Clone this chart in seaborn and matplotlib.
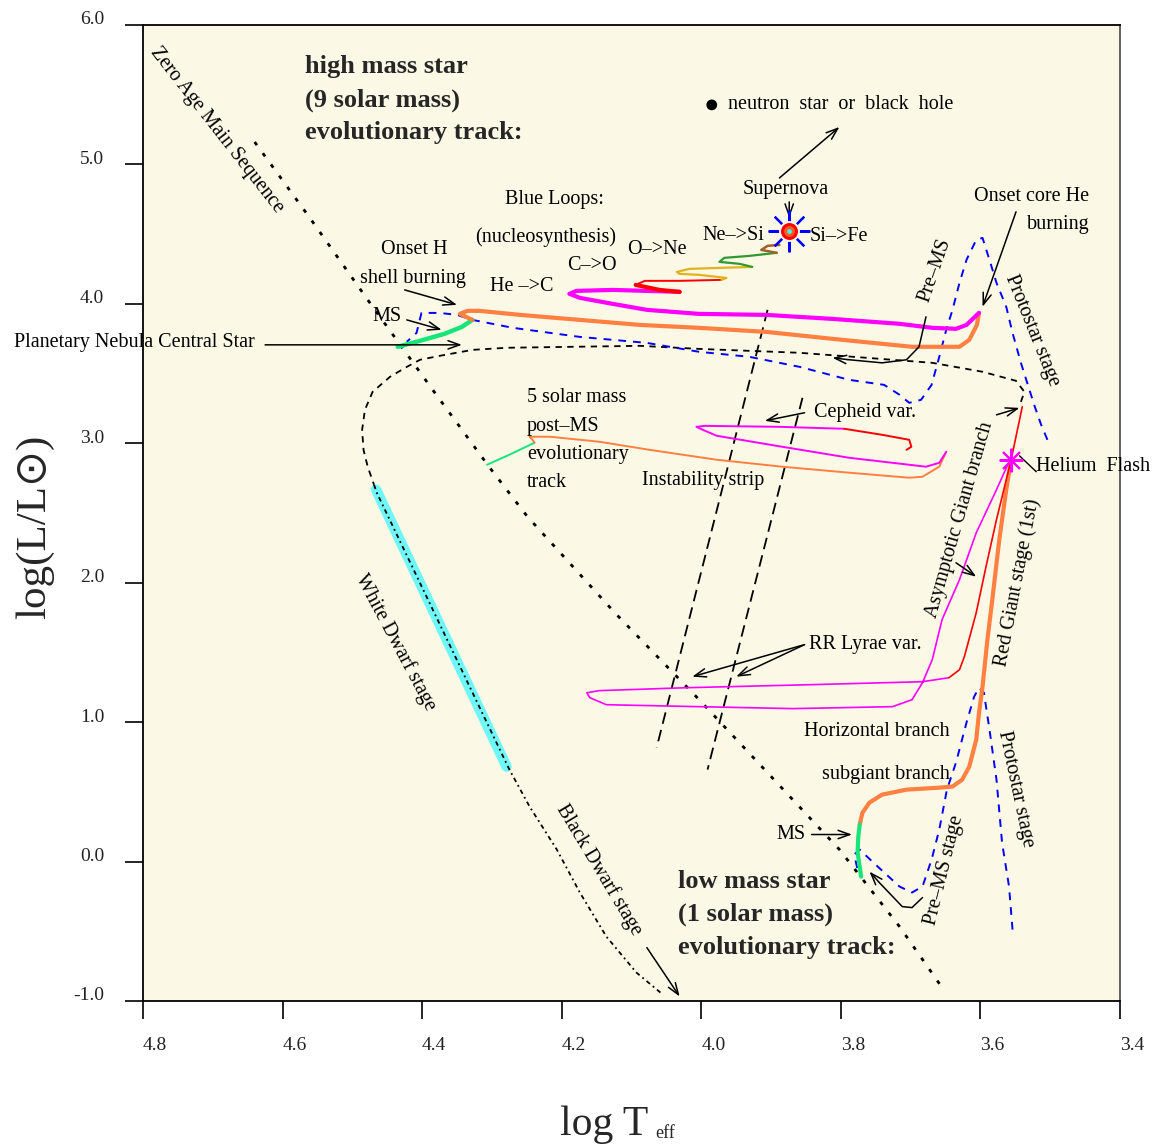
import matplotlib
matplotlib.use("Agg")
import matplotlib.pyplot as plt
import matplotlib.transforms as mtransforms
import seaborn as sns

# ---------------- data (log Teff, log L/Lsun) ----------------
# zero-age main sequence
zams_logt = [4.640, 4.561, 4.478, 4.385, 4.303, 4.249, 4.124, 4.003, 3.885, 3.802, 3.716, 3.655]
zams_logl = [5.161, 4.617, 4.029, 3.384, 2.824, 2.473, 1.785, 1.161, 0.530, 0.086, -0.466, -0.903]

# 9 solar mass star
hm_ms_logt = [4.435, 4.403, 4.368, 4.343, 4.328]
hm_ms_logl = [3.692, 3.735, 3.785, 3.835, 3.885]
hm_post_logt = [4.328, 4.346, 4.335, 4.318, 4.260, 4.174, 4.088, 4.003, 3.907, 3.812, 3.698, 3.630, 3.616, 3.605, 3.602]
hm_post_logl = [3.885, 3.928, 3.950, 3.950, 3.921, 3.885, 3.849, 3.828, 3.799, 3.749, 3.692, 3.692, 3.742, 3.849, 3.935]
hm_he_logt = [3.602, 3.620, 3.635, 3.669, 3.716, 3.812, 3.907, 4.003, 4.078, 4.127, 4.174, 4.189, 4.179, 4.127, 4.031]
hm_he_logl = [3.935, 3.849, 3.821, 3.828, 3.857, 3.892, 3.921, 3.928, 3.957, 4.000, 4.043, 4.072, 4.093, 4.100, 4.086]
hm_c_logt = [4.031, 4.060, 4.094, 4.081, 4.031, 3.971]
hm_c_logl = [4.086, 4.100, 4.136, 4.165, 4.165, 4.172]
hm_o_logt = [3.971, 3.964, 4.003, 4.031, 4.035, 4.017, 3.974, 3.927]
hm_o_logl = [4.172, 4.186, 4.208, 4.215, 4.229, 4.251, 4.258, 4.265]
hm_ne_logt = [3.927, 3.945, 3.974, 3.967, 3.931, 3.892]
hm_ne_logl = [4.265, 4.287, 4.301, 4.330, 4.344, 4.366]
hm_si_logt = [3.892, 3.914, 3.905, 3.888]
hm_si_logl = [4.366, 4.387, 4.416, 4.423]
supernova_logt, supernova_logl = 3.874, 4.523
remnant_logt, remnant_logl = 3.985, 5.427
hm_pre_logt = [3.504, 3.513, 3.523, 3.533, 3.542, 3.554, 3.563, 3.577, 3.587, 3.597, 3.606, 3.620,
               3.630, 3.640, 3.649, 3.659, 3.670, 3.685, 3.702, 3.716, 3.738, 3.788, 3.859, 3.931,
               4.003, 4.078, 4.174, 4.270, 4.328, 4.350, 4.375, 4.401, 4.408, 4.422]
hm_pre_logl = [3.025, 3.133, 3.276, 3.434, 3.577, 3.792, 3.979, 4.151, 4.315, 4.473, 4.459, 4.315,
               4.151, 3.957, 3.814, 3.620, 3.419, 3.312, 3.290, 3.348, 3.419, 3.455, 3.548, 3.620,
               3.656, 3.720, 3.763, 3.828, 3.885, 3.921, 3.935, 3.935, 3.792, 3.728]

# 5 solar mass star
im_ms_logt = [4.307, 4.275, 4.239]
im_ms_logl = [2.846, 2.918, 3.004]
im_post_logt = [4.239, 4.242, 4.246, 4.217, 4.146, 4.074, 3.978, 3.884, 3.788, 3.702, 3.683, 3.659, 3.649]
im_post_logl = [3.004, 3.025, 3.047, 3.047, 3.011, 2.953, 2.882, 2.832, 2.789, 2.753, 2.760, 2.832, 2.939]
im_loop_logt = [3.649, 3.659, 3.678, 3.788, 3.884, 3.978, 3.998, 4.007, 3.995, 3.888, 3.795]
im_loop_logl = [2.939, 2.860, 2.832, 2.896, 2.975, 3.054, 3.097, 3.118, 3.125, 3.118, 3.104]
im_end_logt = [3.795, 3.741, 3.702, 3.699, 3.706]
im_end_logl = [3.104, 3.061, 3.025, 2.975, 2.953]

# 1 solar mass star
lm_ms_logt = [3.773, 3.775, 3.776, 3.773, 3.771]
lm_ms_logl = [0.265, 0.179, 0.065, -0.036, -0.108]
lm_rgb_logt = [3.773, 3.769, 3.759, 3.741, 3.706, 3.659, 3.640, 3.626, 3.616, 3.606, 3.602, 3.597,
               3.590, 3.583, 3.573, 3.563, 3.556]
lm_rgb_logl = [0.265, 0.351, 0.423, 0.480, 0.516, 0.530, 0.538, 0.588, 0.681, 0.875, 1.068, 1.254,
               1.591, 1.878, 2.308, 2.667, 2.882]
lm_hb_logt = [3.559, 3.577, 3.606, 3.630, 3.655, 3.669, 3.683, 3.698, 3.726, 3.869, 4.003, 4.136,
              4.160, 4.164, 4.146, 4.021, 3.841, 3.683, 3.645]
lm_hb_logl = [2.867, 2.667, 2.358, 2.022, 1.735, 1.448, 1.283, 1.161, 1.111, 1.097, 1.111, 1.125,
              1.176, 1.211, 1.226, 1.247, 1.269, 1.290, 1.319]
lm_agb_logt = [3.645, 3.630, 3.623, 3.606, 3.592, 3.577, 3.556, 3.540]
lm_agb_logl = [1.319, 1.376, 1.470, 1.785, 2.115, 2.452, 2.882, 3.262]
lm_pre_logt = [3.554, 3.559, 3.569, 3.577, 3.587, 3.595, 3.602, 3.609, 3.620, 3.635, 3.648, 3.659,
               3.670, 3.683, 3.698, 3.716, 3.755, 3.773, 3.781, 3.776]
lm_pre_logl = [-0.488, -0.179, 0.136, 0.588, 0.946, 1.211, 1.247, 1.183, 0.996, 0.710, 0.516, 0.229,
               0.014, -0.179, -0.222, -0.179, 0.000, 0.086, 0.050, -0.057]
he_flash_logt, he_flash_logl = 3.556, 2.882

# planetary nebula nucleus -> white dwarf -> black dwarf
pn_logt = [3.542, 3.537, 3.549, 3.597, 3.669, 3.763, 3.859, 4.003, 4.088, 4.184, 4.279, 4.328,
           4.375, 4.403, 4.422, 4.446, 4.471, 4.482, 4.486, 4.484, 4.478, 4.469]
pn_logl = [3.297, 3.369, 3.448, 3.513, 3.577, 3.613, 3.649, 3.677, 3.699, 3.692, 3.685, 3.670,
           3.627, 3.599, 3.548, 3.477, 3.369, 3.240, 3.097, 2.953, 2.832, 2.703]
cool_logt = [4.469, 4.465, 4.275, 4.246, 4.207, 4.174, 4.136, 4.093, 4.055]
cool_logl = [2.703, 2.645, 0.660, 0.394, 0.086, -0.222, -0.538, -0.796, -0.954]
wd_logt = [4.466, 4.279]
wd_logl = [2.667, 0.681]

# instability strip edges
strip_blue_logt = [3.905, 4.064]
strip_blue_logl = [3.957, 0.817]
strip_red_logt = [3.855, 3.991]
strip_red_logl = [3.326, 0.660]

# axis ticks
xticks = [4.8, 4.6, 4.4, 4.2, 4.0, 3.8, 3.6, 3.4]
yticks = [6.0, 5.0, 4.0, 3.0, 2.0, 1.0, 0.0, -1.0]

# ---------------- styling ----------------
sns.set_theme(style="white")
plt.rcParams["font.family"] = ["Liberation Serif", "DejaVu Serif"]
plt.rcParams["axes.unicode_minus"] = False

CREAM = "#fcf8e6"
GREEN = "#16e67a"
ORANGE = "#ff8040"
MAGENTA = "#ff00ff"
RED = "#ff0000"
GOLD = "#e2b21c"
DKGREEN = "#2f9a2f"
BROWN = "#a0622c"
BLUE = "#0000ff"
CYAN = "#6ff7f7"

fig = plt.figure(figsize=(11.53, 11.47), dpi=100)
fig.patch.set_facecolor("white")
ax = fig.add_axes([143 / 1153, 1 - 1001 / 1147, 977 / 1153, 976 / 1147])
ax.set_facecolor(CREAM)


def track(xs, ys, color, lw, ls="-", z=2):
    sns.lineplot(x=xs, y=ys, sort=False, estimator=None, color=color,
                 linewidth=lw, linestyle=ls, ax=ax, legend=False, zorder=z)


def arrow(tail, head, lw=1.1):
    ax.annotate("", xy=head, xytext=tail,
                arrowprops=dict(arrowstyle="->,head_length=0.7,head_width=0.25",
                                color="black", lw=lw, shrinkA=0, shrinkB=0))


# reference lines
track(zams_logt, zams_logl, "black", 2.0, (0, (1.4, 3.6)), z=1)
track(strip_blue_logt, strip_blue_logl, "black", 1.3, (0, (6.5, 3.5)), z=1)
track(strip_red_logt, strip_red_logl, "black", 1.3, (0, (6.5, 3.5)), z=1)

# white dwarf cooling
track(wd_logt, wd_logl, CYAN, 7.5, z=1)
track(pn_logt, pn_logl, "black", 1.3, (0, (3.5, 3.0)), z=2)
track(cool_logt, cool_logl, "black", 1.3, (0, (2.5, 2.0, 1.0, 2.0)), z=2)

# pre-main-sequence contractions
track(hm_pre_logt, hm_pre_logl, BLUE, 1.4, (0, (4.0, 3.6)))
track(lm_pre_logt, lm_pre_logl, BLUE, 1.4, (0, (4.0, 3.6)))

# 9 solar mass
track(hm_ms_logt, hm_ms_logl, GREEN, 3.2, z=3)
track(hm_post_logt, hm_post_logl, ORANGE, 3.0, z=3)
track(hm_he_logt, hm_he_logl, MAGENTA, 3.0, z=3)
track(hm_c_logt[:3], hm_c_logl[:3], RED, 3.0, z=3)
track(hm_c_logt, hm_c_logl, RED, 1.4, z=3)
track(hm_o_logt, hm_o_logl, GOLD, 1.6, z=3)
track(hm_ne_logt, hm_ne_logl, DKGREEN, 1.6, z=3)
track(hm_si_logt, hm_si_logl, BROWN, 1.8, z=3)

# 5 solar mass
track(im_ms_logt, im_ms_logl, GREEN, 1.4, z=3)
track(im_post_logt, im_post_logl, ORANGE, 1.4, z=3)
track(im_loop_logt, im_loop_logl, MAGENTA, 1.4, z=3)
track(im_end_logt, im_end_logl, RED, 1.4, z=3)

# 1 solar mass
track(lm_ms_logt, lm_ms_logl, GREEN, 3.0, z=4)
track(lm_rgb_logt, lm_rgb_logl, ORANGE, 3.0, z=3)
track(lm_hb_logt, lm_hb_logl, MAGENTA, 1.2, z=3)
track(lm_agb_logt, lm_agb_logl, RED, 1.2, z=3)

# supernova, remnant and helium flash markers
ax.plot(supernova_logt, supernova_logl, marker=(8, 2, 0), ms=30, mew=1.6, color=BLUE, zorder=5)
ax.plot(supernova_logt, supernova_logl, "o", ms=15, color=CREAM, mew=0, zorder=5)
ax.plot(supernova_logt, supernova_logl, "o", ms=10, mfc="#ff5a1e", mec=RED, mew=2.2, zorder=6)
ax.plot(supernova_logt, supernova_logl, "o", ms=3.5, color="#40f0f0", mew=0, zorder=7)
sns.scatterplot(x=[remnant_logt], y=[remnant_logl], color="black", s=60, ax=ax, zorder=5,
                edgecolor="none", legend=False)
ax.plot(he_flash_logt, he_flash_logl, marker=(8, 2, 0), ms=17, mew=1.5, color=MAGENTA, zorder=6)
ax.plot(he_flash_logt, he_flash_logl, "o", ms=5, color=MAGENTA, mew=0, zorder=6)

# arrows
arrow((3.888, 4.903), (3.802, 5.269))
arrow((3.874, 4.731), (3.874, 4.617))
arrow((3.549, 4.660), (3.597, 3.979))
arrow((4.425, 4.100), (4.350, 3.993))
arrow((4.422, 3.885), (4.372, 3.814))
arrow((4.625, 3.706), (4.343, 3.706))
arrow((3.852, 3.219), (3.909, 3.161))
arrow((3.852, 1.556), (4.013, 1.326))
arrow((3.852, 1.556), (3.950, 1.326))
arrow((3.577, 3.204), (3.544, 3.254))
arrow((3.635, 2.143), (3.606, 2.043))
arrow((3.842, 0.194), (3.784, 0.194))
arrow((4.078, -0.617), (4.031, -0.968))
ax.plot([3.520, 3.544], [2.796, 2.910], color="black", lw=1.0, zorder=5)
# curved pointers toward the pre-main-sequence tracks
track([3.678, 3.688, 3.706, 3.741, 3.790], [3.907, 3.692, 3.599, 3.577, 3.600], "black", 1.1, z=5)
arrow((3.790, 3.600), (3.812, 3.613))
track([3.683, 3.698, 3.712, 3.745], [-0.258, -0.330, -0.323, -0.150], "black", 1.1, z=5)
arrow((3.745, -0.150), (3.759, -0.072))

# ---------------- annotations ----------------
FS = 14.5
txt = dict(fontsize=FS, color="black", zorder=8)

for i, line in enumerate(["high mass star", "(9 solar mass)", "evolutionary track:"]):
    ax.text(4.568, [5.699, 5.462, 5.226][i], line, fontsize=19, fontweight="bold",
            ha="left", va="center", zorder=8)
for i, line in enumerate(["low mass star", "(1 solar mass)", "evolutionary track:"]):
    ax.text(4.034, [-0.144, -0.380, -0.617][i], line, fontsize=19, fontweight="bold",
            ha="left", va="center", zorder=8)

ax.text(3.962, 5.427, "neutron  star  or  black  hole", ha="left", va="center", **txt)
ax.text(3.879, 4.817, "Supernova", ha="center", va="center", **txt)
ax.text(3.909, 4.487, "Ne–>Si", ha="right", va="center", **txt)
ax.text(3.845, 4.480, "Si–>Fe", ha="left", va="center", **txt)
ax.text(4.210, 4.746, "Blue Loops:", ha="center", va="center", **txt)
ax.text(4.223, 4.480, "(nucleosynthesis)", ha="center", va="center", **txt)
ax.text(4.063, 4.387, "O–>Ne", ha="center", va="center", **txt)
ax.text(4.157, 4.272, "C–>O", ha="center", va="center", **txt)
ax.text(4.257, 4.122, "He –>C", ha="center", va="center", **txt)
ax.text(4.411, 4.387, "Onset H", ha="center", va="center", **txt)
ax.text(4.413, 4.179, "shell burning", ha="center", va="center", **txt)
ax.text(4.451, 3.907, "MS", ha="center", va="center", **txt)
ax.text(4.985, 3.720, "Planetary Nebula Central Star", ha="left", va="center", **txt)
ax.text(3.444, 4.767, "Onset core He", ha="right", va="center", **txt)
ax.text(3.444, 4.566, "burning", ha="right", va="center", **txt)
ax.text(3.665, 4.244, "Pre–MS", ha="center", va="center", rotation=71, **txt)
ax.text(3.526, 3.806, "Protostar stage", ha="center", va="center", rotation=-68, **txt)
ax.text(3.838, 3.219, "Cepheid var.", ha="left", va="center", **txt)
for i, line in enumerate(["5 solar mass", "post–MS", "evolutionary", "track"]):
    ax.text(4.250, [3.326, 3.118, 2.918, 2.717][i], line, ha="left", va="center", **txt)
ax.text(3.998, 2.731, "Instability strip", ha="center", va="center", **txt)
ax.text(3.521, 2.832, "Helium  Flash", ha="left", va="center", **txt)
ax.text(3.630, 2.452, "Asymptotic Giant branch", ha="center", va="center", rotation=74, **txt)
ax.text(3.547, 2.000, "Red Giant stage (1st)", ha="center", va="center", rotation=79, **txt)
ax.text(3.845, 1.556, "RR Lyrae var.", ha="left", va="center", **txt)
ax.text(3.749, 0.932, "Horizontal branch", ha="center", va="center", **txt)
ax.text(3.736, 0.624, "subgiant branch", ha="center", va="center", **txt)
ax.text(3.871, 0.194, "MS", ha="center", va="center", **txt)
ax.text(3.652, -0.065, "Pre–MS stage", ha="center", va="center", rotation=76, **txt)
ax.text(3.549, 0.523, "Protostar stage", ha="center", va="center", rotation=-78, **txt)
ax.text(4.439, 1.570, "White Dwarf stage", ha="center", va="center", rotation=-62, **txt)
ax.text(4.146, -0.057, "Black Dwarf stage", ha="center", va="center", rotation=-59, **txt)
ax.text(4.694, 5.247, "Zero Age Main Sequence", ha="center", va="center", rotation=-52, **txt)

# ---------------- axes ----------------
ax.set_xlim(4.8, 3.4)
ax.set_ylim(-1.0, 6.0)
ax.set_xticks(xticks)
ax.set_xticklabels([f"{v:.1f}" for v in xticks])
ax.set_yticks(yticks)
ax.set_yticklabels([f"{v:.1f}" for v in yticks])
ax.set_xlabel("")
ax.set_ylabel("")
ax.tick_params(axis="both", which="major", direction="out", length=13, width=1.2,
               color="black", labelsize=14, labelcolor="#222222")
ax.tick_params(axis="x", pad=13, bottom=True)
ax.tick_params(axis="y", pad=15, left=True)
for s in ax.spines.values():
    s.set_visible(True)
    s.set_color("black")
    s.set_linewidth(1.3)
ax.spines["right"].set_color("#555555")
ax.grid(False)

xoff = mtransforms.ScaledTranslation(12 / 100, 0, fig.dpi_scale_trans)
yoff = mtransforms.ScaledTranslation(0, 7 / 100, fig.dpi_scale_trans)
for lab in ax.get_xticklabels():
    lab.set_transform(lab.get_transform() + xoff)
for lab in ax.get_yticklabels():
    lab.set_transform(lab.get_transform() + yoff)

fig.text(35 / 1153, 1 - 527 / 1147, "log(L/L⊙)", rotation=90, fontsize=31,
         ha="center", va="center", family=["Liberation Serif", "DejaVu Sans"])
fig.text(604 / 1153, 1 - 1125 / 1147, "log T", fontsize=30, ha="center", va="center")
fig.text(655 / 1153, 1 - 1133 / 1147, "eff", fontsize=13, ha="left", va="center")

fig.savefig("out.png", dpi=100, facecolor="white")
